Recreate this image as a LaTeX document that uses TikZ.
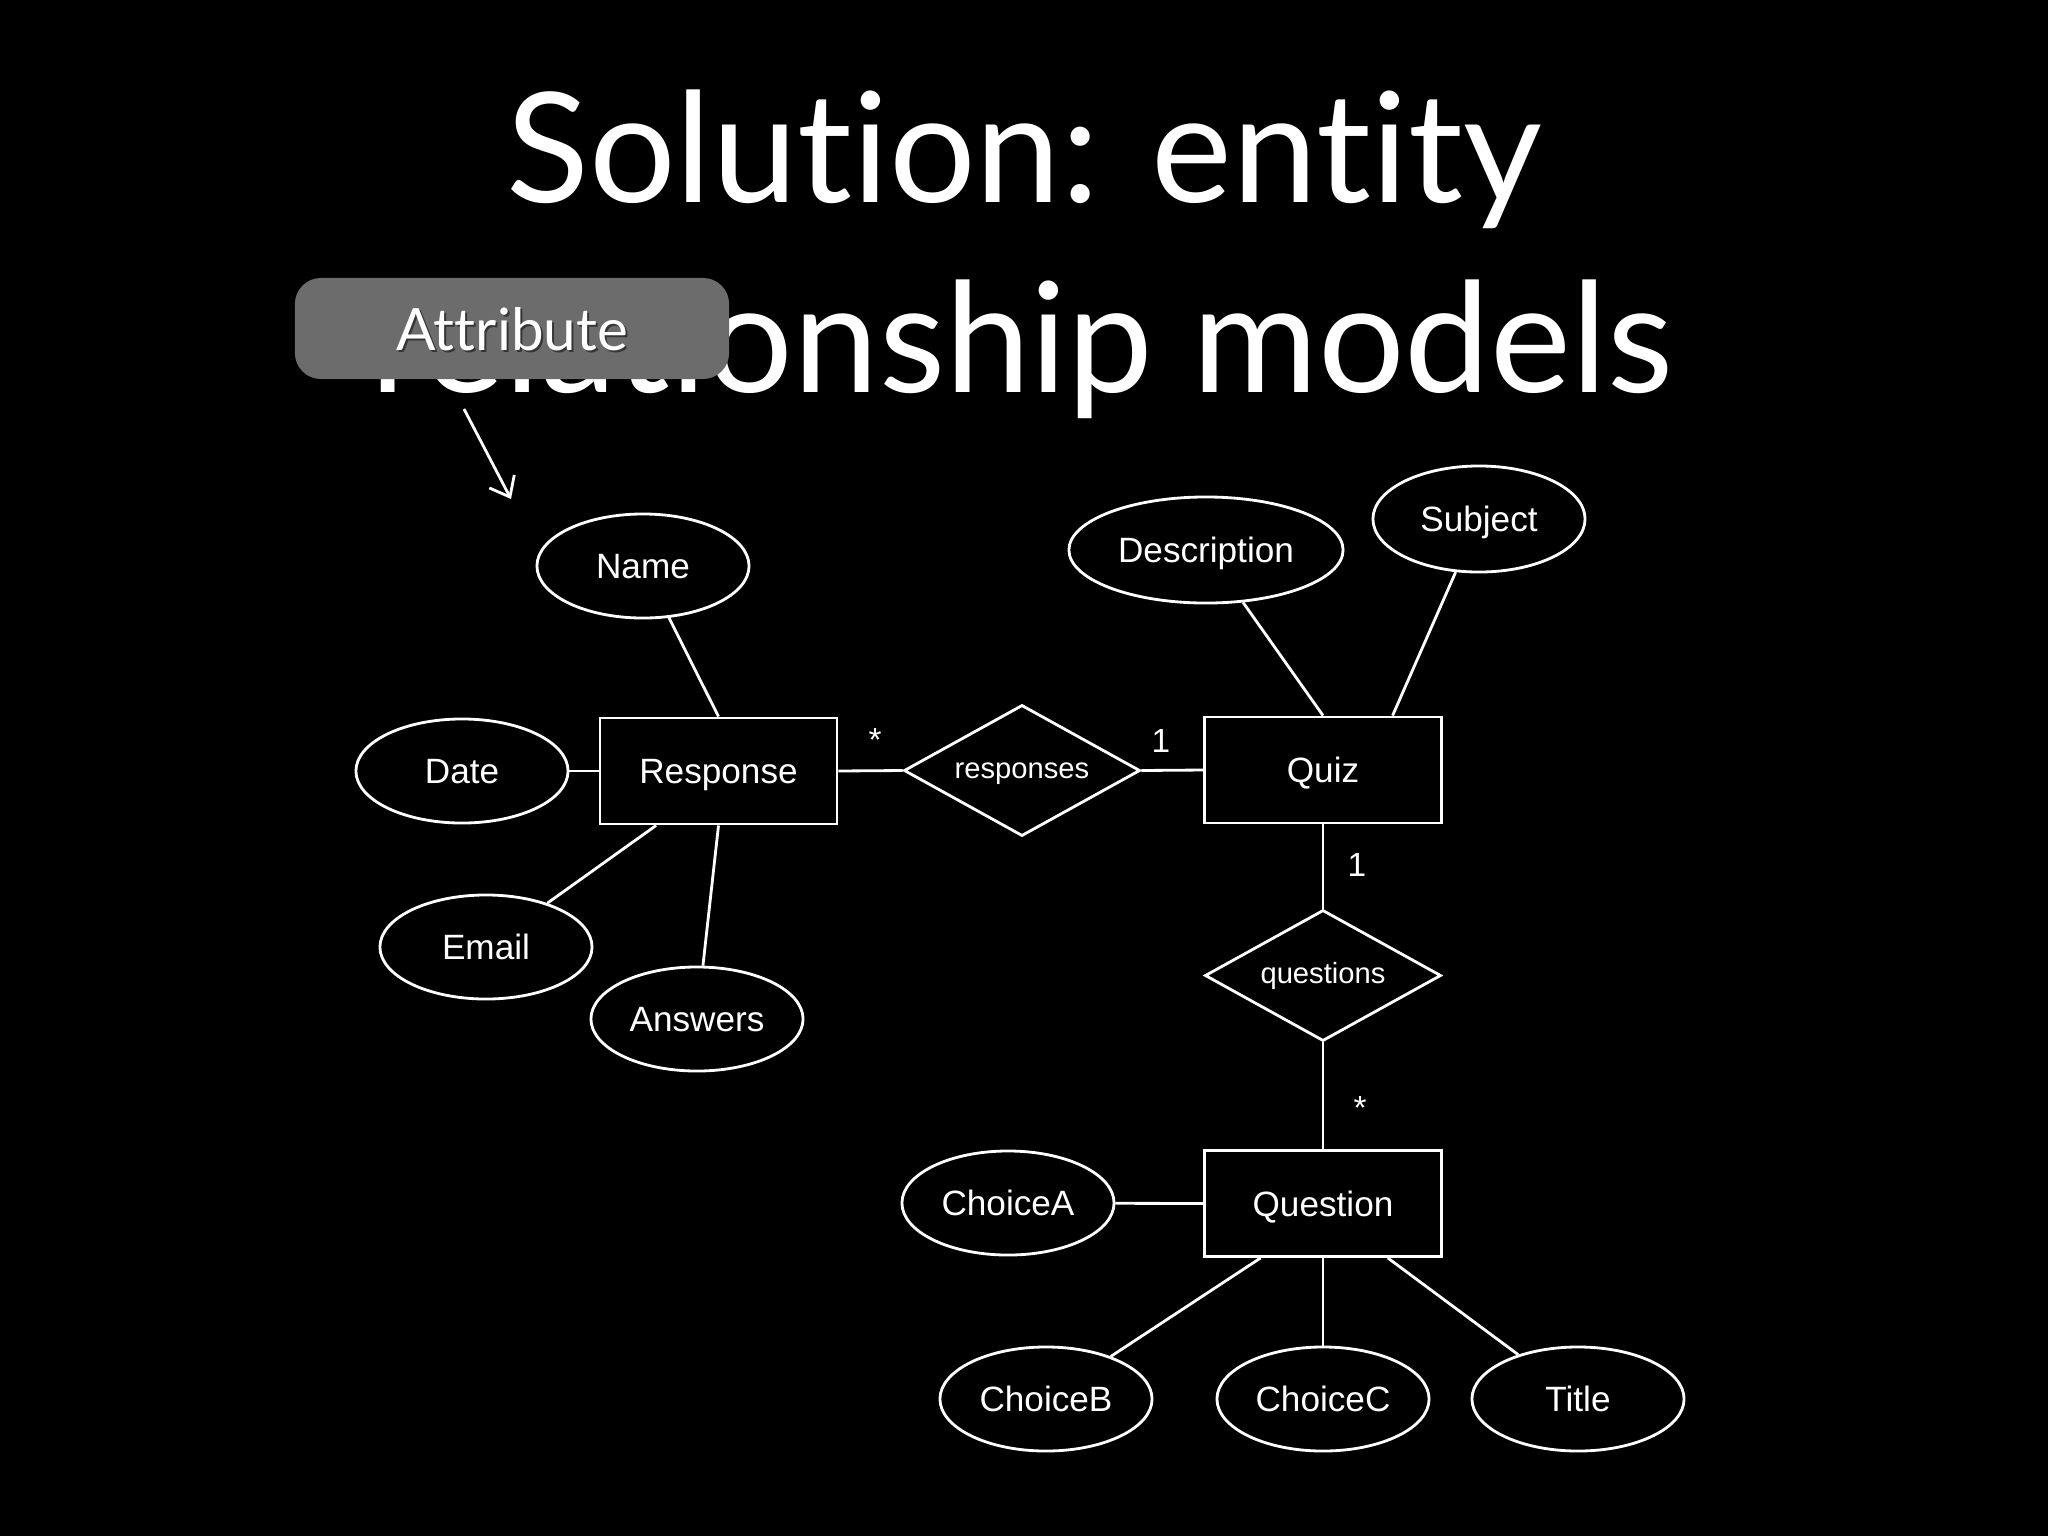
\documentclass[tikz,border=0pt]{standalone}
\usepackage{fontspec}
\setmainfont{Lato}[Ligatures={NoCommon,NoRare,NoDiscretionary},Contextuals=NoAlternate]
\newfontfamily\helv{Liberation Sans}
\usetikzlibrary{shapes.geometric,arrows.meta,calc}
\definecolor{callout}{HTML}{6C6C6C}
\begin{document}
\begin{tikzpicture}[x=0.01cm,y=-0.01cm,
  every path/.style={line width=0.8pt},
  entity/.style={draw=white,rectangle,minimum width=2.37cm,minimum height=1.06cm,inner sep=0pt,text=white,text height=7.2pt,text depth=0pt,font=\helv\fontsize{10}{12}\selectfont},
  attr/.style={draw=white,ellipse,minimum width=2.12cm,minimum height=1.04cm,inner sep=0pt,text=white,text height=7.2pt,text depth=0pt,font=\helv\fontsize{10}{12}\selectfont},
  rel/.style={draw=white,diamond,minimum width=2.36cm,minimum height=1.31cm,inner sep=0pt},
  rellabel/.style={label={[text=white,font=\helv\fontsize{8.3}{9}\selectfont,inner sep=0pt,text height=4.4pt,text depth=0pt]center:#1}},
  mult/.style={text=white,font=\helv\fontsize{9.5}{10}\selectfont,inner sep=0pt},
  conn/.style={draw=white},
  titletext/.style={text=white,font=\fontsize{43.5}{50}\selectfont,anchor=base,inner sep=0pt}]
\fill[black] (0,0) rectangle (2048,1536);
\useasboundingbox (0,0) rectangle (2048,1536);
% title
\node[titletext] (t1) at (1024,202) {Solution: entity};
\node[titletext] (t2) at (1022,392) {relationship models};
% callout
\node[fill=callout,rounded corners=0.26cm,minimum width=4.34cm,minimum height=1.01cm,inner sep=0pt] (callout) at (512,328.5) {};
\node[text=black,opacity=0.5,font=\fontsize{16.6}{20}\selectfont,anchor=base] (ashadow) at (514,352) {Attribute};
\node[text=white,font=\fontsize{16.6}{20}\selectfont,anchor=base] (atext) at (512,350) {Attribute};
\coordinate (arrs) at (464,409);
\coordinate (arre) at (511,499);
\draw[white,-{Straight Barb[length=5pt,width=8pt]}] (arrs) -- (arre);
% entities
\node[entity] (resp) at (718.5,771) {Response};
\node[entity] (quiz) at (1323,770) {Quiz};
\node[entity] (quest) at (1323,1203.5) {Question};
% relationships
\node[rel,rellabel=responses] (responses) at (1022,770.5) {};
\node[rel,rellabel=questions] (questions) at (1323,975.5) {};
% attributes
\node[attr] (name) at (643,566) {Name};
\node[attr] (date) at (462,771) {Date};
\node[attr] (email) at (486,947) {Email};
\node[attr] (answers) at (697,1019) {Answers};
\node[attr,minimum width=2.74cm,minimum height=1.06cm] (desc) at (1206,550) {Description};
\node[attr,minimum height=1.06cm] (subj) at (1479,519) {Subject};
\node[attr] (ca) at (1008,1203) {ChoiceA};
\node[attr] (cb) at (1046,1399) {ChoiceB};
\node[attr] (cc) at (1323,1399) {ChoiceC};
\node[attr] (ttl) at (1578,1399) {Title};
% connection points
\coordinate (respSW) at ($(resp.south west)!0.24!(resp.south east)$);
\coordinate (quizNE) at ($(quiz.north west)!0.79!(quiz.north east)$);
\coordinate (questSW) at ($(quest.south west)!0.24!(quest.south east)$);
\coordinate (questSE) at ($(quest.south west)!0.77!(quest.south east)$);
% connectors
\draw[conn] (name) -- (resp.north);
\draw[conn] (date) -- (resp.west);
\draw[conn] (email) -- (respSW);
\draw[conn] (answers) -- (resp.south);
\draw[conn] (resp.east) -- (responses.west);
\draw[conn] (responses.east) -- (quiz.west);
\draw[conn] (desc) -- (quiz.north);
\draw[conn] (subj) -- (quizNE);
\draw[conn] (quiz.south) -- (questions.north);
\draw[conn] (questions.south) -- (quest.north);
\draw[conn] (ca) -- (quest.west);
\draw[conn] (cb) -- (questSW);
\draw[conn] (cc) -- (quest.south);
\draw[conn] (ttl) -- (questSE);
% multiplicities
\node[mult] (m1) at (875,740) {*};
\node[mult] (m2) at (1161,741) {1};
\node[mult] (m3) at (1357,865) {1};
\node[mult] (m4) at (1360,1108) {*};
\end{tikzpicture}
\end{document}
